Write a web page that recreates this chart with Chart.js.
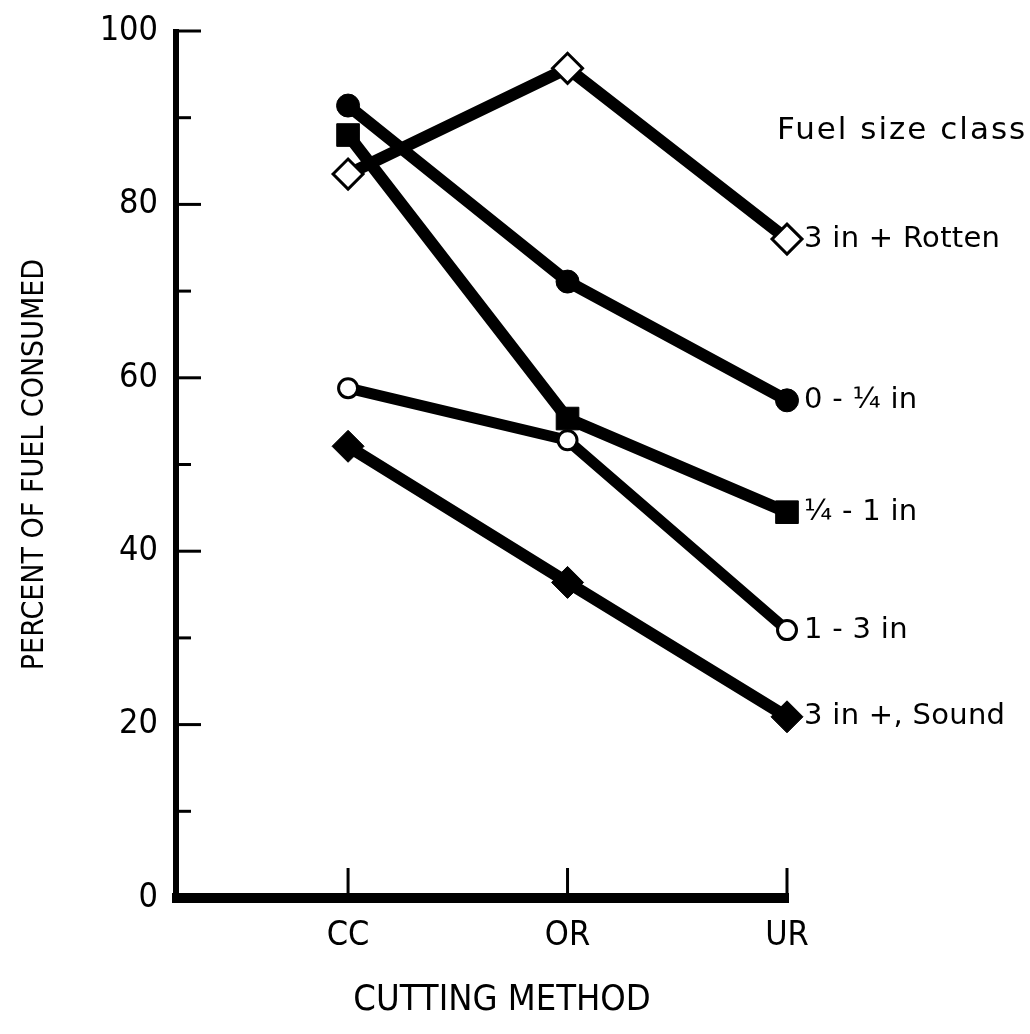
<!DOCTYPE html>
<html>
<head>
<meta charset="utf-8">
<script src="https://cdn.jsdelivr.net/npm/chart.js@4"></script>
<style>
  html, body { margin: 0; padding: 0; background: #fff; }
  #wrap { width: 1030px; height: 1034px; }
</style>
</head>
<body>
<div id="wrap"><canvas id="fuel"></canvas></div>
<script>
// cutting methods on the x axis
var methods = ['CC', 'OR', 'UR'];
var methodPos = [1, 2, 3];

// percent of fuel consumed, one array per fuel size class
var rotten3in = [83.5, 95.7, 76.0];
var quarterIn = [91.4, 71.1, 57.4];
var quarterTo1 = [88.0, 55.3, 44.5];
var oneTo3 = [58.8, 52.8, 30.9];
var sound3in = [52.1, 36.4, 20.9];

var seriesNames = ['3 in + Rotten', '0 - \u00BC in', '\u00BC - 1 in', '1 - 3 in', '3 in +, Sound'];
var yMajorTicks = [0, 20, 40, 60, 80, 100];
var yMinorTicks = [10, 30, 50, 70, 90];

var narrow = '"DejaVu Sans Condensed", "Liberation Sans Narrow", sans-serif';
var plain = '"DejaVu Sans", sans-serif';

function pts(vals) {
    return vals.map(function (v, i) { return { x: methodPos[i], y: v }; });
}

function makeSet(label, vals, style, radius, open, lw) {
    return {
        label: label,
        data: pts(vals),
        borderColor: '#000',
        borderWidth: lw,
        pointStyle: style,
        pointRadius: radius,
        pointHoverRadius: radius,
        pointBackgroundColor: open ? '#fff' : '#000',
        pointBorderColor: '#000',
        pointBorderWidth: open ? 3 : 1,
        tension: 0,
        clip: false
    };
}

var axesPlugin = {
    id: 'oldAxes',
    beforeDatasetsDraw: function (chart) {
        var ctx = chart.ctx;
        var xs = chart.scales.x, ys = chart.scales.y;
        var x0 = xs.getPixelForValue(xs.min);
        var y0 = ys.getPixelForValue(0);
        ctx.save();
        ctx.strokeStyle = '#000';
        ctx.lineCap = 'butt';
        // y axis
        ctx.lineWidth = 6;
        ctx.beginPath();
        ctx.moveTo(x0, ys.getPixelForValue(100) - 2);
        ctx.lineTo(x0, y0 + 5);
        ctx.stroke();
        // x axis
        ctx.lineWidth = 10;
        ctx.beginPath();
        ctx.moveTo(x0 - 4, y0);
        ctx.lineTo(xs.getPixelForValue(3) + 2, y0);
        ctx.stroke();
        // y ticks
        ctx.lineWidth = 3;
        yMajorTicks.forEach(function (v) {
            var y = ys.getPixelForValue(v);
            ctx.beginPath(); ctx.moveTo(x0, y); ctx.lineTo(x0 + 25, y); ctx.stroke();
        });
        yMinorTicks.forEach(function (v) {
            var y = ys.getPixelForValue(v);
            ctx.beginPath(); ctx.moveTo(x0, y); ctx.lineTo(x0 + 15, y); ctx.stroke();
        });
        // x ticks
        methodPos.forEach(function (v) {
            var x = xs.getPixelForValue(v);
            ctx.beginPath(); ctx.moveTo(x, y0); ctx.lineTo(x, y0 - 30); ctx.stroke();
        });
        ctx.restore();
    },
    afterDraw: function (chart) {
        var ctx = chart.ctx;
        var xs = chart.scales.x, ys = chart.scales.y;
        ctx.save();
        ctx.fillStyle = '#000';
        ctx.textBaseline = 'middle';
        ctx.textAlign = 'left';
        ctx.font = '29px ' + plain;
        ctx.letterSpacing = '0.3px';
        chart.data.datasets.forEach(function (ds, i) {
            var meta = chart.getDatasetMeta(i);
            var p = meta.data[meta.data.length - 1];
            ctx.fillText(seriesNames[i], xs.getPixelForValue(3) + 17, p.y);
        });
        ctx.font = '31px ' + plain;
        ctx.letterSpacing = '2px';
        ctx.fillText('Fuel size class', xs.getPixelForValue(3) - 10, ys.getPixelForValue(88.5));
        ctx.restore();
    }
};

var ctx = document.getElementById('fuel').getContext('2d');
var chart = new Chart(ctx, {
    type: 'line',
    data: {
        datasets: [
            makeSet(seriesNames[0], rotten3in, 'rectRot', 15, true, 12),
            makeSet(seriesNames[1], quarterIn, 'circle', 11.5, false, 12),
            makeSet(seriesNames[2], quarterTo1, 'rect', 16, false, 12),
            makeSet(seriesNames[3], oneTo3, 'circle', 9.5, true, 11),
            makeSet(seriesNames[4], sound3in, 'rectRot', 16, false, 12)
        ]
    },
    options: {
        responsive: true,
        maintainAspectRatio: false,
        animation: false,
        events: [],
        layout: { padding: { top: 31, right: 243, left: 0, bottom: 0 } },
        plugins: {
            legend: { display: false },
            tooltip: { enabled: false }
        },
        scales: {
            x: {
                type: 'linear',
                min: 0.216,
                max: 3,
                grid: { display: false },
                border: { display: false },
                afterBuildTicks: function (scale) {
                    scale.ticks = methodPos.map(function (v) { return { value: v }; });
                },
                afterFit: function (scale) { scale.height = 136; },
                ticks: {
                    color: '#000',
                    padding: 10,
                    maxRotation: 0,
                    autoSkip: false,
                    font: { family: narrow, size: 34, lineHeight: 1.2 },
                    callback: function (v) { return methods[methodPos.indexOf(v)] || ''; }
                },
                title: {
                    display: true,
                    text: '    CUTTING METHOD',
                    color: '#000',
                    font: { family: narrow, size: 36, lineHeight: 1.2 },
                    padding: { top: 0, bottom: 12 }
                }
            },
            y: {
                min: 0,
                max: 100,
                grid: {
                    display: true,
                    drawOnChartArea: false,
                    drawTicks: true,
                    tickLength: 18,
                    color: 'rgba(0,0,0,0)'
                },
                border: { display: false },
                afterFit: function (scale) { scale.width = 176; },
                ticks: {
                    stepSize: 10,
                    color: '#000',
                    padding: 0,
                    autoSkip: false,
                    font: { family: narrow, size: 34, lineHeight: 1.0 },
                    callback: function (v) { return v % 20 === 0 ? String(v) : ''; }
                },
                title: {
                    display: true,
                    text: 'PERCENT OF FUEL CONSUMED',
                    color: '#000',
                    font: { family: narrow, size: 30, lineHeight: 1.2 },
                    padding: { top: 17, bottom: 0 }
                }
            }
        }
    },
    plugins: [axesPlugin]
});
</script>
</body>
</html>
